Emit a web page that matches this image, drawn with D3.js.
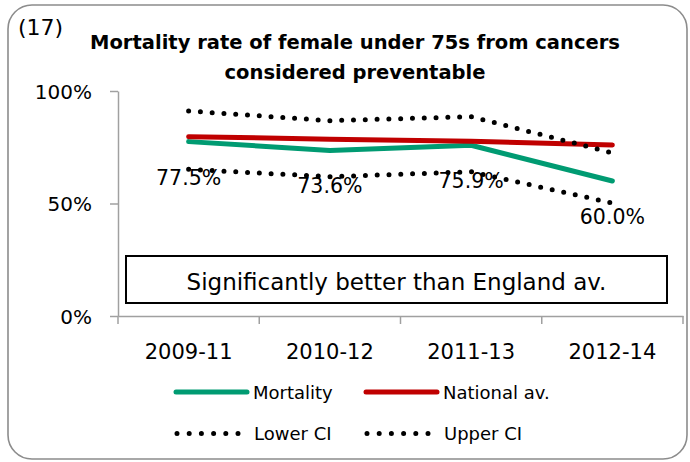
<!DOCTYPE html>
<html>
<head>
<meta charset="utf-8">
<script src="https://cdn.jsdelivr.net/npm/d3@7"></script>
<style>
  html, body { margin: 0; padding: 0; background: #fff; }
  svg { display: block; font-family: "DejaVu Sans", sans-serif; }
</style>
</head>
<body>
<svg id="chart" width="690" height="462"></svg>
<script>
const categories = ["2009-11", "2010-12", "2011-13", "2012-14"];
const mortality = [0.775, 0.736, 0.759, 0.600];
const nationalAv = [0.797, 0.786, 0.777, 0.760];
const lowerCI = [0.652, 0.619, 0.641, 0.502];
const upperCI = [0.911, 0.868, 0.886, 0.725];
const yTicks = [0, 0.5, 1];
const titleLines = ["Mortality rate of female under 75s from cancers", "considered preventable"];
const panelTag = "(17)";
const noteText = "Significantly better than England av.";

const svg = d3.select("#chart");

// outer rounded border
svg.append("rect")
  .attr("x", 8).attr("y", 5).attr("width", 679).attr("height", 454)
  .attr("rx", 24).attr("ry", 24)
  .attr("fill", "#fff").attr("stroke", "#8c8c8c").attr("stroke-width", 1.6);

svg.append("text").attr("x", 18).attr("y", 35)
  .attr("font-size", 22).attr("fill", "#000").text(panelTag);

svg.selectAll("text.title").data(titleLines).join("text")
  .attr("class", "title")
  .attr("x", 355).attr("y", (d, i) => 49 + i * 30)
  .attr("text-anchor", "middle").attr("font-weight", "bold")
  .attr("font-size", 19.5).attr("fill", "#000").text(d => d);

const x = d3.scaleBand().domain(categories).range([118, 683]).padding(0);
const y = d3.scaleLinear().domain([0, 1]).range([316, 91]);
const cx = d => x(d) + x.bandwidth() / 2;

// Y axis
const yAxis = svg.append("g").attr("transform", "translate(118,0)")
  .call(d3.axisLeft(y).tickValues(yTicks).tickFormat(d3.format(".0%")).tickSize(8).tickSizeOuter(0).tickPadding(18));
yAxis.select(".domain").attr("stroke", "#a0a0a0").attr("stroke-width", 1.5);
yAxis.selectAll(".tick line").attr("stroke", "#a0a0a0").attr("stroke-width", 1.5);
yAxis.selectAll(".tick text").attr("font-size", 20).attr("fill", "#000")
  .attr("font-family", "DejaVu Sans").attr("dy", "0.36em");

// X axis (labels at band centres, ticks at band boundaries)
const xAxis = svg.append("g").attr("transform", "translate(0,316)")
  .call(d3.axisBottom(x).tickSize(0).tickPadding(0).tickSizeOuter(0));
xAxis.select(".domain").attr("stroke", "#a0a0a0").attr("stroke-width", 1.5);
xAxis.selectAll(".tick text").attr("font-size", 21).attr("fill", "#000")
  .attr("font-family", "DejaVu Sans").attr("dy", 0).attr("y", 43);
const bounds = categories.map(c => x(c)).concat([x(categories[categories.length - 1]) + x.bandwidth()]);
xAxis.selectAll("line.bt").data(bounds).join("line").attr("class", "bt")
  .attr("x1", d => d).attr("x2", d => d).attr("y1", 0).attr("y2", 8)
  .attr("stroke", "#a0a0a0").attr("stroke-width", 1.5);

// Note box
svg.append("rect").attr("x", 126).attr("y", 256).attr("width", 541).attr("height", 47)
  .attr("fill", "#fff").attr("stroke", "#000").attr("stroke-width", 2);
svg.append("text").attr("x", 396.5).attr("y", 290).attr("text-anchor", "middle")
  .attr("font-size", 23).attr("fill", "#000").text(noteText);

// data labels (under the dotted lines)
svg.selectAll("text.dl").data(mortality).join("text").attr("class", "dl")
  .attr("x", (d, i) => cx(categories[i])).attr("y", d => y(d) + 43)
  .attr("text-anchor", "middle").attr("font-size", 20.5).attr("fill", "#000")
  .text(d => d3.format(".1%")(d));

const line = d3.line().x((d, i) => cx(categories[i])).y(d => y(d));

const series = [
  { values: mortality, color: "#009B72", width: 5, dash: null },
  { values: nationalAv, color: "#C00000", width: 5, dash: null },
  { values: lowerCI, color: "#000", width: 5, dash: "0 11.8" },
  { values: upperCI, color: "#000", width: 5, dash: "0 11.8" }
];
series.forEach(s => {
  svg.append("path").datum(s.values).attr("d", line)
    .attr("fill", "none").attr("stroke", s.color).attr("stroke-width", s.width)
    .attr("stroke-linecap", "round").attr("stroke-linejoin", "round")
    .attr("stroke-dasharray", s.dash);
});

// Legend
const legendItems = [
  { name: "Mortality", color: "#009B72", width: 5, dash: null, lx: 176, ly: 392 },
  { name: "National av.", color: "#C00000", width: 5, dash: null, lx: 366, ly: 392 },
  { name: "Lower CI", color: "#000", width: 5, dash: "0 12.2", lx: 177, ly: 433.5 },
  { name: "Upper CI", color: "#000", width: 5, dash: "0 12.2", lx: 367, ly: 433.5 }
];
const lg = svg.append("g");
legendItems.forEach(it => {
  const len = it.dash ? 61 : 71;
  lg.append("line").attr("x1", it.lx).attr("x2", it.lx + len).attr("y1", it.ly).attr("y2", it.ly)
    .attr("stroke", it.color).attr("stroke-width", it.width).attr("stroke-linecap", "round")
    .attr("stroke-dasharray", it.dash);
  lg.append("text").attr("x", it.lx + 77).attr("y", it.ly + 6.5)
    .attr("font-size", 18).attr("fill", "#000").text(it.name);
});
</script>
</body>
</html>
